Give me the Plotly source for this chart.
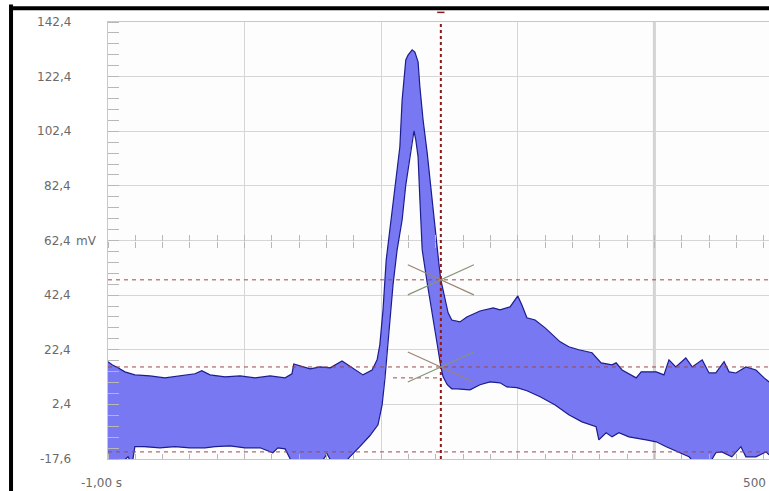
import plotly.graph_objects as go

# ---- data (time in s, voltage in mV) ----
upper_t = [-1.000, -0.991, -0.978, -0.963, -0.941, -0.908, -0.875, -0.842, -0.809, -0.794,
           -0.776, -0.743, -0.710, -0.677, -0.644, -0.611, -0.596, -0.592, -0.578, -0.556,
           -0.534, -0.512, -0.486, -0.469, -0.440, -0.420, -0.409, -0.403, -0.396, -0.389,
           -0.381, -0.372, -0.363, -0.359, -0.354, -0.350, -0.346, -0.341, -0.332, -0.326,
           -0.319, -0.315, -0.308, -0.299, -0.288, -0.280, -0.273, -0.269, -0.260, -0.253,
           -0.245, -0.227, -0.212, -0.183, -0.154, -0.139, -0.117, -0.106, -0.100, -0.091,
           -0.080, -0.062, -0.040, -0.007, 0.012, 0.034, 0.063, 0.083, 0.107, 0.116,
           0.129, 0.160, 0.171, 0.204, 0.221, 0.232, 0.247, 0.269, 0.283, 0.305,
           0.320, 0.335, 0.353, 0.364, 0.379, 0.401, 0.423, 0.441, 0.452]
upper_mv = [18.0, 16.9, 15.8, 14.3, 13.2, 12.8, 12.1, 12.8, 13.6, 14.7,
            13.2, 12.5, 12.8, 12.1, 12.8, 12.1, 13.6, 17.2, 16.5, 15.4,
            16.1, 15.8, 18.3, 16.5, 13.2, 15.0, 18.7, 24.2, 37.0, 55.3,
            66.3, 79.1, 91.9, 96.7, 113.9, 123.0, 128.5, 130.3, 132.2, 131.4,
            127.8, 118.6, 106.5, 94.5, 77.3, 62.6, 53.5, 48.0, 40.7, 35.9,
            33.3, 32.6, 34.4, 36.6, 37.7, 37.0, 38.1, 40.7, 42.1, 38.8,
            34.1, 33.3, 30.4, 25.3, 23.5, 22.4, 21.3, 17.6, 16.9, 17.6,
            15.0, 12.1, 14.3, 14.3, 13.2, 18.7, 16.1, 19.4, 16.1, 18.7,
            13.9, 13.9, 18.0, 14.3, 13.9, 16.1, 15.0, 12.1, 10.6]

lower_t = [-1.000, -0.974, -0.956, -0.947, -0.941, -0.919, -0.886, -0.853, -0.820, -0.787,
           -0.765, -0.732, -0.699, -0.666, -0.638, -0.627, -0.611, -0.594, -0.567, -0.534,
           -0.519, -0.506, -0.480, -0.469, -0.447, -0.425, -0.407, -0.398, -0.392, -0.387,
           -0.381, -0.374, -0.365, -0.354, -0.346, -0.337, -0.332, -0.328, -0.324, -0.319,
           -0.315, -0.310, -0.299, -0.286, -0.275, -0.269, -0.264, -0.255, -0.245, -0.234,
           -0.205, -0.183, -0.161, -0.139, -0.124, -0.102, -0.080, -0.051, -0.018, 0.012,
           0.041, 0.072, 0.078, 0.094, 0.107, 0.122, 0.144, 0.182, 0.204, 0.226,
           0.254, 0.276, 0.291, 0.320, 0.335, 0.348, 0.370, 0.390, 0.401, 0.423,
           0.445, 0.452]
lower_mv = [-19.5, -19.5, -16.8, -19.5, -13.1, -13.1, -13.5, -13.1, -13.5, -13.5,
            -13.1, -12.8, -13.5, -13.5, -15.3, -13.5, -13.9, -19.5, -19.5, -19.5,
            -15.7, -19.5, -19.0, -16.8, -13.1, -9.1, -5.1, 2.2, 11.4, 20.5,
            33.3, 46.2, 59.0, 70.0, 82.7, 93.0, 99.2, 102.5, 99.2, 93.0,
            77.3, 59.0, 46.9, 34.4, 22.4, 16.1, 12.5, 9.6, 8.1, 8.1,
            7.7, 9.6, 10.6, 10.3, 8.8, 8.5, 7.4, 5.2, 2.2, -1.4,
            -4.0, -5.8, -10.6, -8.0, -9.5, -8.0, -9.5, -10.6, -11.3, -13.1,
            -15.3, -16.8, -19.5, -19.5, -15.3, -15.0, -16.8, -13.1, -16.8, -16.8,
            -15.0, -16.1]

y_grid = [142.4, 122.4, 102.4, 82.4, 62.4, 42.4, 22.4, 2.4, -17.6]
y_labels = ["142,4", "122,4", "102,4", "82,4", "62,4", "42,4", "22,4", "2,4", "-17,6"]
y_unit = "mV"
x_grid = [-0.7, -0.4, -0.1, 0.2]
x_center = 0.2
x_labels = ["-1,00 s", "500"]
x_range = [-1.0, 0.4517]
y_range = [-17.6, 142.4]

cursor_t = -0.269
cursor_levels = [48.0, 16.1]
ref_levels = [48.0, 16.1, -15.0]
short_level = 12.1
short_from = -0.374
trigger_t = -0.403

FILL = "#7878f2"
EDGE = "#1c1c8e"
GRID = "#d6d6d6"
TXT = "#6a6a6a"
RED = "#a04848"

fig = go.Figure()
fig.add_trace(go.Scatter(x=upper_t + lower_t[::-1], y=upper_mv + lower_mv[::-1],
                         fill="toself", fillcolor=FILL, line=dict(width=0),
                         mode="lines", hoverinfo="skip", showlegend=False))
for xs, ys in [(upper_t, upper_mv), (lower_t, lower_mv)]:
    fig.add_trace(go.Scatter(x=xs, y=ys, mode="lines", line=dict(color=EDGE, width=1.2),
                             hoverinfo="skip", showlegend=False))

# markers: trigger at bottom, cursor flag at top
fig.add_trace(go.Scatter(x=[trigger_t], y=[y_range[0] - 1.2], mode="markers", cliponaxis=False,
                         marker=dict(symbol="triangle-up", size=9, color="black"),
                         hoverinfo="skip", showlegend=False))
fig.add_trace(go.Scatter(x=[cursor_t], y=[y_range[1] + 1.6], mode="markers", cliponaxis=False,
                         marker=dict(symbol="triangle-down", size=7, color="#8b1a1a"),
                         hoverinfo="skip", showlegend=False))
# dummy traces for the centre-cross axes
fig.add_trace(go.Scatter(x=[None], y=[None], xaxis="x2", yaxis="y", showlegend=False))
fig.add_trace(go.Scatter(x=[None], y=[None], xaxis="x3", yaxis="y", showlegend=False))

shapes = []
# heavier centre vertical line
shapes.append(dict(type="line", xref="x", x0=x_center, x1=x_center, yref="paper", y0=0, y1=1,
                   line=dict(color="#d2d2d2", width=3), layer="below"))
for lv in ref_levels:
    shapes.append(dict(type="line", xref="paper", x0=0, x1=1, yref="y", y0=lv, y1=lv,
                       line=dict(color=RED, width=1, dash="4px,4px"), layer="above"))
shapes.append(dict(type="line", xref="x", x0=short_from, x1=cursor_t, yref="y",
                   y0=short_level, y1=short_level,
                   line=dict(color=RED, width=1, dash="4px,4px"), layer="above"))
shapes.append(dict(type="line", xref="x", x0=cursor_t, x1=cursor_t, yref="paper", y0=0, y1=1,
                   line=dict(color="#8b1a1a", width=2, dash="dot"), layer="above"))
for lv in cursor_levels:
    dx, dy = 0.0725, 5.5
    shapes.append(dict(type="line", xref="x", yref="y", x0=cursor_t - dx, x1=cursor_t + dx,
                       y0=lv + dy, y1=lv - dy, line=dict(color="#9a8672", width=1.2), layer="above"))
    shapes.append(dict(type="line", xref="x", yref="y", x0=cursor_t - dx, x1=cursor_t + dx,
                       y0=lv - dy, y1=lv + dy, line=dict(color="#85957a", width=1.2), layer="above"))
# cursor flag bar
shapes.append(dict(type="line", xref="x", x0=cursor_t - 0.008, x1=cursor_t + 0.008,
                   yref="paper", y0=1.022, y1=1.022, line=dict(color="#8b1a1a", width=1.5)))
# black frame edges
shapes.append(dict(type="line", xref="paper", x0=-0.1467, x1=1.05, yref="paper",
                   y0=1.0315, y1=1.0315, line=dict(color="black", width=4)))
shapes.append(dict(type="line", xref="paper", x0=-0.1467, x1=-0.1467, yref="paper",
                   y0=1.04, y1=-0.08, line=dict(color="black", width=4)))

ann = []
font = dict(family="DejaVu Sans", size=12, color=TXT)
for v, t in zip(y_grid, y_labels):
    ann.append(dict(x=0, xref="paper", y=v, yref="y", text=t, showarrow=False,
                    xanchor="right", yanchor="middle", xshift=-35, font=font))
ann.append(dict(x=0, xref="paper", y=62.4, yref="y", text=y_unit, showarrow=False,
                xanchor="left", yanchor="middle", xshift=-34, font=font))
ann.append(dict(x=0, xref="paper", y=0, yref="paper", text=x_labels[0], showarrow=False,
                xanchor="center", yanchor="middle", xshift=-7, yshift=-24, font=font))
ann.append(dict(x=1, xref="paper", y=0, yref="paper", text=x_labels[1], showarrow=False,
                xanchor="right", yanchor="middle", xshift=-1, yshift=-24, font=font))

fig.update_layout(
    width=769, height=491,
    margin=dict(l=108, r=0, t=22, b=32),
    paper_bgcolor="white", plot_bgcolor="#fdfdfd",
    shapes=shapes, annotations=ann,
    xaxis=dict(range=x_range, tickvals=x_grid, showticklabels=False, ticks="",
               showgrid=True, gridcolor=GRID, gridwidth=1, zeroline=False,
               showline=True, linecolor="#c8c8c8", mirror=True,
               minor=dict(dtick=0.06, tick0=-1.0, ticks="inside", ticklen=5,
                          tickcolor="#b8b8b8", showgrid=False)),
    yaxis=dict(range=y_range, tickvals=y_grid, showticklabels=False, ticks="",
               showgrid=True, gridcolor=GRID, gridwidth=1, zeroline=False,
               showline=True, linecolor="#c8c8c8",
               minor=dict(dtick=4, tick0=-17.6, ticks="inside", ticklen=11,
                          tickcolor="#b8b8b8", showgrid=False)),
    xaxis2=dict(overlaying="x", anchor="free", position=0.5, range=x_range,
                tick0=-1.0, dtick=0.06, ticks="inside", ticklen=6, tickcolor="#b8b8b8",
                showticklabels=False, showgrid=False, zeroline=False, showline=False),
    xaxis3=dict(overlaying="x", anchor="free", position=0.5, range=x_range,
                tick0=-1.0, dtick=0.06, ticks="outside", ticklen=6, tickcolor="#b8b8b8",
                showticklabels=False, showgrid=False, zeroline=False, showline=False),
)

fig.write_html("out.html")
